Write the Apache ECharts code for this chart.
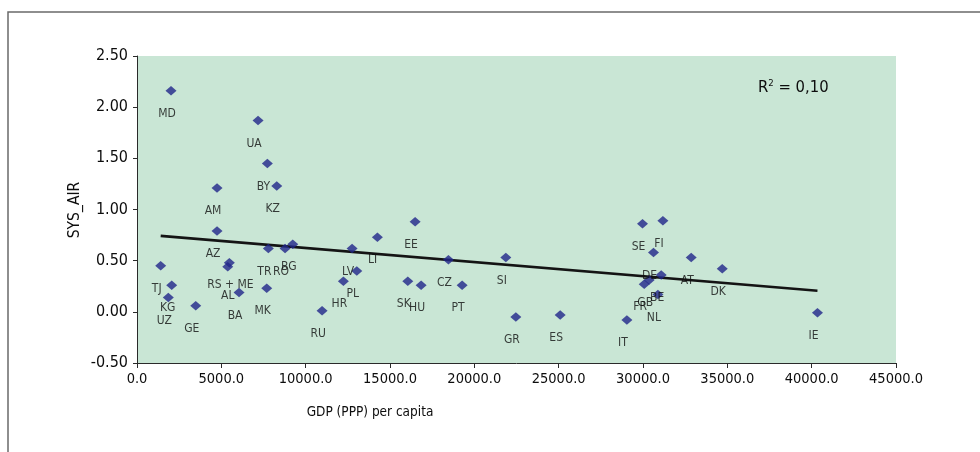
<!DOCTYPE html>
<html>
<head>
<meta charset="utf-8">
<script src="https://cdn.jsdelivr.net/npm/echarts@6/dist/echarts.min.js"></script>
<style>
  html, body { margin: 0; padding: 0; background: #ffffff; }
  #chart { width: 980px; height: 452px; }
</style>
</head>
<body>
<div id="chart"></div>
<script>
// Country codes, GDP (PPP) per capita and SYS_AIR score
const countries = ['MD','UA','BY','KZ','AM','AZ','TR','RO','BG','TJ','KG','UZ','GE','RS + ME','AL','BA','MK','RU',
  'EE','LT','LV','PL','HR','SK','HU','CZ','PT','SI','GR','ES',
  'SE','FI','DE','AT','DK','BE','GB','FR','NL','IT','IE'];
const gdp = [2017, 7177, 7729, 8286, 4745, 4745, 7788, 8779, 9235, 1404, 2058, 1857, 3482, 5475, 5380, 6050, 7692, 10973,
  16489, 14253, 12752, 13031, 12236, 16055, 16845, 18464, 19276, 21868, 22461, 25089,
  29971, 31180, 30623, 32858, 34698, 31079, 30368, 30071, 30884, 29045, 40344];
const sysAir = [2.16, 1.87, 1.45, 1.23, 1.21, 0.79, 0.62, 0.62, 0.66, 0.45, 0.26, 0.14, 0.06, 0.48, 0.44, 0.19, 0.23, 0.01,
  0.88, 0.73, 0.62, 0.40, 0.30, 0.30, 0.26, 0.51, 0.26, 0.53, -0.05, -0.03,
  0.86, 0.89, 0.58, 0.53, 0.42, 0.36, 0.31, 0.27, 0.17, -0.08, -0.01];

// Linear trend line end points
const trendX = [1404, 40344];
const trendY = [0.742, 0.206];

// Axis ranges
const xRange = { min: 0, max: 45000, step: 5000 };
const yRange = { min: -0.5, max: 2.5, step: 0.5 };

const rSquaredText = '0,10';
const xTitle = 'GDP (PPP) per capita';
const yTitle = 'SYS_AIR';

// Pick the narrowest installed face from a list of condensed candidates
function pickFont() {
  const ctx = document.createElement('canvas').getContext('2d');
  const sample = 'GDP (PPP) per capita 0123456789';
  const widthOf = f => { ctx.font = f; return ctx.measureText(sample).width; };
  const candidates = ['Liberation Sans Narrow', 'DejaVu Sans Condensed', 'Roboto Condensed',
    'Open Sans Condensed', 'Noto Sans Condensed', 'Arial Narrow'];
  for (const c of candidates) {
    const a = widthOf('40px "' + c + '", monospace');
    const b = widthOf('40px monospace');
    const s = widthOf('40px "' + c + '", serif');
    const t = widthOf('40px serif');
    if (a !== b || s !== t) return { family: '"' + c + '"', k: c.indexOf('DejaVu') >= 0 ? 0.9 : 1 };
  }
  return { family: '"Liberation Sans", Arial, sans-serif', k: 0.88 };
}
const F = pickFont();
const FONT = F.family;
const fs = v => Math.round(v * F.k * 2) / 2;

// Labels that sit somewhere other than just under their marker
const labelShift = {
  'RS + ME': [1, 22],
  'AL': [0, 29]
};

const points = countries.map((c, i) => {
  const item = { name: c, value: [gdp[i], sysAir[i]] };
  if (labelShift[c]) item.label = { offset: labelShift[c] };
  return item;
});

const chart = echarts.init(document.getElementById('chart'), null, { renderer: 'canvas' });

chart.setOption({
  animation: false,
  backgroundColor: '#ffffff',
  grid: { left: 137, top: 56, right: 84, bottom: 89, backgroundColor: '#c9e6d5', show: true, borderWidth: 0 },
  xAxis: {
    type: 'value',
    min: xRange.min, max: xRange.max, interval: xRange.step,
    axisLine: { show: true, onZero: false, lineStyle: { color: '#2a2a2a', width: 1 } },
    axisTick: { show: true, length: 5, lineStyle: { color: '#2a2a2a' } },
    splitLine: { show: false },
    axisLabel: { color: '#0d0d0d', fontFamily: FONT, fontSize: fs(16), margin: 9,
      formatter: v => v.toFixed(1) }
  },
  yAxis: {
    type: 'value',
    min: yRange.min, max: yRange.max, interval: yRange.step,
    axisLine: { show: true, onZero: false, lineStyle: { color: '#2a2a2a', width: 1 } },
    axisTick: { show: true, length: 4, lineStyle: { color: '#2a2a2a' } },
    splitLine: { show: false },
    axisLabel: { color: '#0d0d0d', fontFamily: FONT, fontSize: fs(18), margin: 9,
      formatter: v => v.toFixed(2) }
  },
  series: [
    {
      type: 'line',
      data: trendX.map((x, i) => [x, trendY[i]]),
      showSymbol: false,
      symbol: 'none',
      lineStyle: { color: '#141414', width: 2.6 },
      z: 2,
      silent: true
    },
    {
      type: 'scatter',
      data: points,
      symbol: 'diamond',
      symbolSize: [11, 9.5],
      itemStyle: { color: '#21258a' },
      z: 3,
      label: {
        show: true,
        position: 'inside',
        offset: [-4, 23],
        formatter: p => p.name,
        color: '#0f0f0f',
        fontFamily: FONT,
        fontSize: fs(13.5)
      }
    }
  ],
  graphic: [
    // outer frame
    { type: 'polyline', shape: { points: [[8, 452], [8, 12], [980, 12]] },
      style: { stroke: '#6a6a6a', lineWidth: 1.5, fill: null }, silent: true },
    // axis titles
    { type: 'text', x: 370, y: 412,
      style: { text: xTitle, fontFamily: FONT, fontSize: fs(15), fill: '#0d0d0d', textAlign: 'center', textVerticalAlign: 'middle' } },
    { type: 'text', x: 75, y: 210, rotation: Math.PI / 2,
      style: { text: yTitle, fontFamily: FONT, fontSize: fs(17), fill: '#0d0d0d', textAlign: 'center', textVerticalAlign: 'middle' } },
    // coefficient of determination
    { type: 'text', x: 758, y: 88,
      style: {
        text: '{r|R}{s|2}{r| = ' + rSquaredText + '}',
        textVerticalAlign: 'middle',
        rich: {
          r: { fontFamily: FONT, fontSize: fs(18.5), fill: '#0d0d0d' },
          s: { fontFamily: FONT, fontSize: fs(10.5), fill: '#0d0d0d', verticalAlign: 'top', padding: [0, 0, 8, 0] }
        }
      } }
  ]
});
</script>
</body>
</html>
